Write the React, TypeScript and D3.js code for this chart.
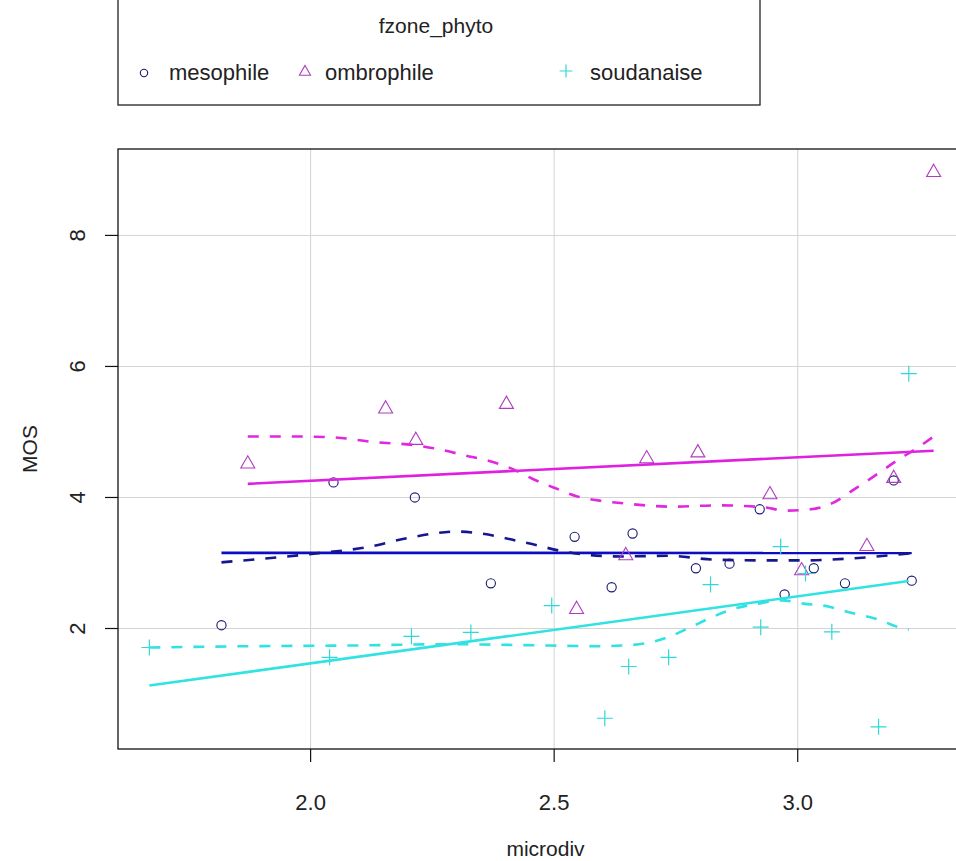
import React from "react";
import * as d3 from "d3";

// ---- data -------------------------------------------------------------
const groups = ["mesophile", "ombrophile", "soudanaise"];

const mesophileX = [1.817, 2.047, 2.214, 2.37, 2.542, 2.618, 2.661, 2.791, 2.86, 2.922, 2.973, 3.033, 3.097, 3.197, 3.234];
const mesophileY = [2.05, 4.23, 4.0, 2.69, 3.4, 2.63, 3.45, 2.92, 2.99, 3.82, 2.52, 2.92, 2.69, 4.26, 2.73];

const ombrophileX = [1.871, 2.154, 2.216, 2.402, 2.546, 2.647, 2.69, 2.795, 2.943, 3.008, 3.142, 3.197, 3.279];
const ombrophileY = [4.53, 5.37, 4.89, 5.44, 2.31, 3.13, 4.61, 4.7, 4.06, 2.9, 3.27, 4.31, 8.98];

const soudanaiseX = [1.669, 2.039, 2.207, 2.329, 2.495, 2.604, 2.653, 2.735, 2.821, 2.924, 2.965, 3.016, 3.07, 3.166, 3.228];
const soudanaiseY = [1.71, 1.56, 1.88, 1.94, 2.35, 0.63, 1.42, 1.56, 2.67, 2.02, 3.25, 2.84, 1.95, 0.5, 5.89];

// loess smoother curves (dashed)
const mesophileSmoothX = [1.817, 1.924, 2.016, 2.115, 2.205, 2.3, 2.349, 2.441, 2.54, 2.639, 2.731, 2.832, 2.92, 3.018, 3.111, 3.234];
const mesophileSmoothY = [3.01, 3.08, 3.15, 3.24, 3.39, 3.48, 3.45, 3.31, 3.15, 3.1, 3.11, 3.05, 3.04, 3.04, 3.07, 3.15];

const ombrophileSmoothX = [1.871, 1.975, 2.043, 2.125, 2.222, 2.267, 2.318, 2.365, 2.413, 2.454, 2.503, 2.546, 2.595, 2.643, 2.741, 2.838, 2.93, 2.977, 3.027, 3.07, 3.119, 3.16, 3.203, 3.244, 3.279];
const ombrophileSmoothY = [4.93, 4.93, 4.92, 4.85, 4.79, 4.73, 4.64, 4.56, 4.44, 4.29, 4.14, 4.02, 3.95, 3.91, 3.86, 3.88, 3.85, 3.8, 3.82, 3.91, 4.14, 4.34, 4.56, 4.75, 4.93];

const soudanaiseSmoothX = [1.669, 1.873, 2.078, 2.283, 2.489, 2.585, 2.637, 2.684, 2.731, 2.78, 2.823, 2.873, 2.92, 2.967, 3.012, 3.06, 3.109, 3.16, 3.207, 3.228];
const soudanaiseSmoothY = [1.71, 1.73, 1.74, 1.76, 1.74, 1.73, 1.74, 1.77, 1.86, 2.02, 2.17, 2.31, 2.38, 2.43, 2.38, 2.34, 2.24, 2.15, 2.02, 1.98];

const xTicks = [2.0, 2.5, 3.0];
const yTicks = [2, 4, 6, 8];

// ---- styling ----------------------------------------------------------
const lineColors = ["#0c0cc4", "#e020e0", "#30e2e2"];
const dashColors = ["#16168e", "#e028e0", "#30e2e2"];
const pointColors = ["#1a1a70", "#b03cc0", "#30d8d8"];
const FONT = "'Liberation Sans', Arial, sans-serif";

const W = 956;
const H = 861;
const plot = { left: 118, right: 965, top: 149, bottom: 749 };

function padded(ext: [number, number]): [number, number] {
  const r = ext[1] - ext[0];
  return [ext[0] - 0.04 * r, ext[1] + 0.04 * r];
}

function leastSquares(xs: number[], ys: number[]) {
  const mx = d3.mean(xs)!;
  const my = d3.mean(ys)!;
  let sxy = 0;
  let sxx = 0;
  xs.forEach((x, i) => {
    sxy += (x - mx) * (ys[i] - my);
    sxx += (x - mx) * (x - mx);
  });
  const b = sxy / sxx;
  return { a: my - b * mx, b };
}

function Marker({ kind, x, y, color, k = 1 }: { kind: number; x: number; y: number; color: string; k?: number }) {
  if (kind === 0) {
    return <circle cx={x} cy={y} r={4.6 * k} fill="none" stroke={color} strokeWidth={1.1} />;
  }
  if (kind === 1) {
    const s = 7 * k;
    return (
      <path
        d={`M${x},${y - s}L${x + s},${y + s * 0.75}L${x - s},${y + s * 0.75}Z`}
        fill="none"
        stroke={color}
        strokeWidth={1.1}
      />
    );
  }
  const s = 8 * k;
  return (
    <path d={`M${x - s},${y}H${x + s}M${x},${y - s}V${y + s}`} fill="none" stroke={color} strokeWidth={1.2} />
  );
}

export default function App() {
  const xsAll = [...mesophileX, ...ombrophileX, ...soudanaiseX];
  const ysAll = [...mesophileY, ...ombrophileY, ...soudanaiseY];
  const x = d3.scaleLinear().domain(padded(d3.extent(xsAll) as [number, number])).range([plot.left, plot.right]);
  const y = d3.scaleLinear().domain(padded(d3.extent(ysAll) as [number, number])).range([plot.bottom, plot.top]);

  const series = [
    { xs: mesophileX, ys: mesophileY, sx: mesophileSmoothX, sy: mesophileSmoothY },
    { xs: ombrophileX, ys: ombrophileY, sx: ombrophileSmoothX, sy: ombrophileSmoothY },
    { xs: soudanaiseX, ys: soudanaiseY, sx: soudanaiseSmoothX, sy: soudanaiseSmoothY },
  ];

  const line = d3
    .line<[number, number]>()
    .x((d) => x(d[0]))
    .y((d) => y(d[1]))
    .curve(d3.curveMonotoneX);

  const legendItems = [
    { mx: 144, tx: 169 },
    { mx: 305, tx: 325 },
    { mx: 566, tx: 590 },
  ];

  return (
    <svg
      width={W}
      height={H}
      style={{ display: "block", position: "absolute", left: 0, top: 0, background: "#fff" }}
      fontFamily={FONT}
    >
      <rect x={0} y={0} width={W} height={H} fill="#fff" />

      {/* legend */}
      <rect x={118} y={-20} width={642} height={125} fill="none" stroke="#222" strokeWidth={1.3} />
      <text x={436} y={33} textAnchor="middle" fontSize={21} fill="#222">
        fzone_phyto
      </text>
      {groups.map((g, i) => (
        <g key={g}>
          <Marker kind={i} x={legendItems[i].mx} y={i === 0 ? 73 : 71} color={pointColors[i]} k={0.8} />
          <text x={legendItems[i].tx} y={80} fontSize={22} fill="#222">
            {g}
          </text>
        </g>
      ))}

      {/* grid */}
      {xTicks.map((t) => (
        <line key={"gx" + t} x1={x(t)} x2={x(t)} y1={plot.top} y2={plot.bottom} stroke="#d3d3d3" strokeWidth={1} />
      ))}
      {yTicks.map((t) => (
        <line key={"gy" + t} x1={plot.left} x2={plot.right} y1={y(t)} y2={y(t)} stroke="#d3d3d3" strokeWidth={1} />
      ))}

      {/* points, regression and smoother lines */}
      {series.map((s, i) => {
        const fit = leastSquares(s.xs, s.ys);
        const [x0, x1] = d3.extent(s.xs) as [number, number];
        const smooth = s.sx.map((v, j) => [v, s.sy[j]] as [number, number]);
        return (
          <g key={groups[i]}>
            {s.xs.map((v, j) => (
              <Marker key={j} kind={i} x={x(v)} y={y(s.ys[j])} color={pointColors[i]} />
            ))}
            <line
              x1={x(x0)}
              y1={y(fit.a + fit.b * x0)}
              x2={x(x1)}
              y2={y(fit.a + fit.b * x1)}
              stroke={lineColors[i]}
              strokeWidth={2.6}
            />
            <path d={line(smooth) ?? ""} fill="none" stroke={dashColors[i]} strokeWidth={2.6} strokeDasharray="11,11" />
          </g>
        );
      })}

      {/* box */}
      <rect
        x={plot.left}
        y={plot.top}
        width={plot.right - plot.left}
        height={plot.bottom - plot.top}
        fill="none"
        stroke="#111"
        strokeWidth={1.3}
      />

      {/* x axis */}
      {xTicks.map((t) => (
        <g key={"tx" + t}>
          <line x1={x(t)} x2={x(t)} y1={plot.bottom} y2={plot.bottom + 13} stroke="#111" strokeWidth={1.2} />
          <text x={x(t)} y={810} textAnchor="middle" fontSize={22} fill="#222">
            {d3.format(".1f")(t)}
          </text>
        </g>
      ))}
      <text x={(plot.left + plot.right) / 2 + 4} y={856} textAnchor="middle" fontSize={21} fill="#222">
        microdiv
      </text>

      {/* y axis */}
      {yTicks.map((t) => (
        <g key={"ty" + t}>
          <line x1={plot.left - 13} x2={plot.left} y1={y(t)} y2={y(t)} stroke="#111" strokeWidth={1.2} />
          <text
            transform={`translate(${85},${y(t)}) rotate(-90)`}
            textAnchor="middle"
            fontSize={22}
            fill="#222"
          >
            {t}
          </text>
        </g>
      ))}
      <text
        transform={`translate(${37},${(plot.top + plot.bottom) / 2}) rotate(-90)`}
        textAnchor="middle"
        fontSize={21}
        fill="#222"
      >
        MOS
      </text>
    </svg>
  );
}
